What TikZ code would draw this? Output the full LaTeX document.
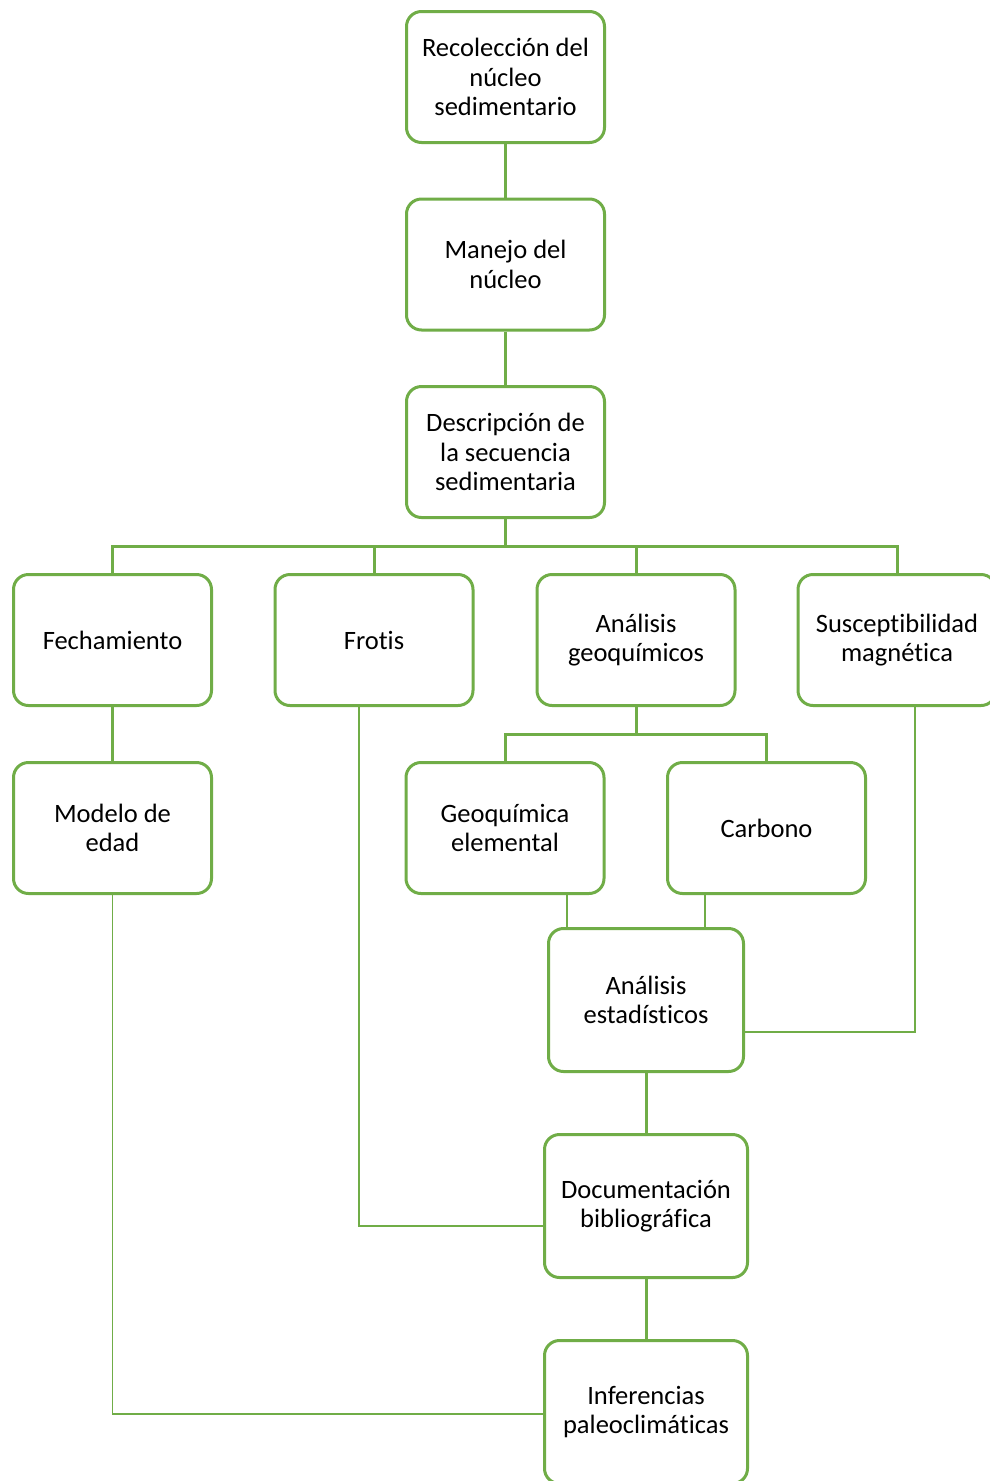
\documentclass[tikz,border=0pt]{standalone}
\usepackage{fontspec}
\setmainfont[Ligatures={NoCommon}]{Carlito}
\definecolor{offgreen}{HTML}{70AD47}
\begin{document}
\begin{tikzpicture}[x=1pt,y=-1pt,
  box/.style={draw=offgreen, line width=3pt, rounded corners=15pt, fill=white,
    minimum width=198pt, minimum height=131pt, align=center, inner sep=0pt,
    font=\fontsize{26.5}{29.5}\selectfont, text=black},
  mainline/.style={draw=offgreen, line width=3pt},
  thinline/.style={draw=offgreen, line width=1.6pt}]
\useasboundingbox (0,0) rectangle (989,1481);
\fill[white] (0,0) rectangle (989,1481);

% nodes
\node[box] (rec) at (505.5,77) {Recolección del\\núcleo\\sedimentario};
\node[box] (man) at (505.5,264.5) {Manejo del\\núcleo};
\node[box] (desc) at (505.5,452) {Descripción de\\la secuencia\\sedimentaria};
\node[box] (fech) at (112.5,640) {Fechamiento};
\node[box] (frot) at (374,640) {Frotis};
\node[box] (geo) at (636,640) {Análisis\\geoquímicos};
\node[box] (susc) at (897,640) {Susceptibilidad\\magnética};
\node[box] (mod) at (112.5,828) {Modelo de\\edad};
\node[box] (geoel) at (505,828) {Geoquímica\\elemental};
\node[box] (carb) at (766.5,828) {Carbono};
\node[box, minimum width=195pt, minimum height=143pt] (est) at (646,1000) {Análisis\\estadísticos};
\node[box, minimum width=203pt, minimum height=143pt] (doc) at (646,1206) {Documentación\\bibliográfica};
\node[box, minimum width=203pt, minimum height=143pt] (inf) at (646,1412) {Inferencias\\paleoclimáticas};

% bus coordinates
\coordinate (bus1) at (505.5,546);
\coordinate (bus2) at (636,734);

% main connectors
\draw[mainline] (rec.south) -- (man.north);
\draw[mainline] (man.south) -- (desc.north);
\draw[mainline] (desc.south) -- (bus1);
\draw[mainline] (fech.north) -- (fech.north |- bus1) -- (susc.north |- bus1) -- (susc.north);
\draw[mainline] (frot.north) -- (frot.north |- bus1);
\draw[mainline] (geo.north) -- (geo.north |- bus1);
\draw[mainline] (fech.south) -- (mod.north);
\draw[mainline] (geo.south) -- (bus2);
\draw[mainline] (geoel.north) -- (geoel.north |- bus2) -- (carb.north |- bus2) -- (carb.north);
\draw[mainline] (est.south) -- (doc.north);
\draw[mainline] (doc.south) -- (inf.north);

% thin connectors
\draw[thinline] ([xshift=62pt]geoel.south) -- ([xshift=62pt]geoel.south |- est.north);
\draw[thinline] ([xshift=-61.5pt]carb.south) -- ([xshift=-61.5pt]carb.south |- est.north);
\draw[thinline] ([xshift=18pt]susc.south) |- ([yshift=-32pt]est.east);
\draw[thinline] ([xshift=-15pt]frot.south) |- ([yshift=-20pt]doc.west);
\draw[thinline] (mod.south) |- ([yshift=-2pt]inf.west);
\end{tikzpicture}
\end{document}
